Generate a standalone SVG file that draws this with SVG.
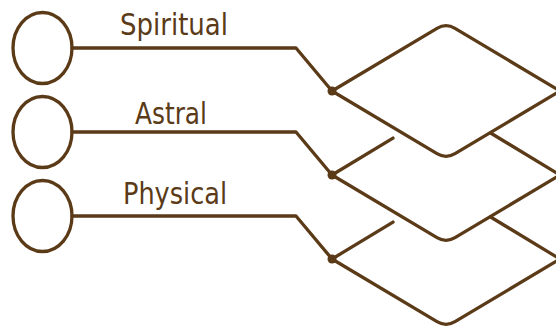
<svg xmlns="http://www.w3.org/2000/svg" width="556" height="326" viewBox="0 0 556 326">
<style>
.s{fill:none;stroke:#5a3a17;stroke-width:3.3;stroke-linecap:round;stroke-linejoin:round}
.d{fill:#5a3a17}
.t{font-family:"DejaVu Sans Condensed","DejaVu Sans",sans-serif;font-stretch:condensed;font-size:30px;fill:#5a3a17}
</style>
<rect width="556" height="326" fill="#fff"/>
<g id="circle-spiritual"><ellipse class="s" cx="42.5" cy="48" rx="29.5" ry="35.5"/></g>
<g id="circle-astral"><ellipse class="s" cx="42.5" cy="132" rx="29.5" ry="35.5"/></g>
<g id="circle-physical"><ellipse class="s" cx="42.5" cy="216" rx="29.5" ry="35.5"/></g>
<g id="diamond-spiritual"><path class="s" d="M332,91 L437,28.4 Q446,23 455,28.4 L560,91 L455,153.6 Q446,159 437,153.6 Z"/></g>
<g id="diamond-astral"><path class="s" d="M393,138.1 L332,175 L437,237.6 Q446,243 455,237.6 L560,175 L490.6,133"/></g>
<g id="diamond-physical"><path class="s" d="M393,222.1 L332,259 L437,321.6 Q446,327 455,321.6 L560,259 L490.6,217"/></g>
<g id="connectors">
<path class="s" d="M72,48 L296,48 L332,91"/>
<path class="s" d="M72,132 L296,132 L332,175"/>
<path class="s" d="M72,216 L296,216 L332,259"/>
<circle class="d" cx="332" cy="91" r="4.5"/>
<circle class="d" cx="332" cy="175" r="4.5"/>
<circle class="d" cx="332" cy="259" r="4.5"/>
</g>
<g id="labels">
<text class="t" x="120" y="35" textLength="108" lengthAdjust="spacingAndGlyphs">Spiritual</text>
<text class="t" x="135" y="124" textLength="72" lengthAdjust="spacingAndGlyphs">Astral</text>
<text class="t" x="123" y="204" textLength="104" lengthAdjust="spacingAndGlyphs">Physical</text>
</g>
</svg>
